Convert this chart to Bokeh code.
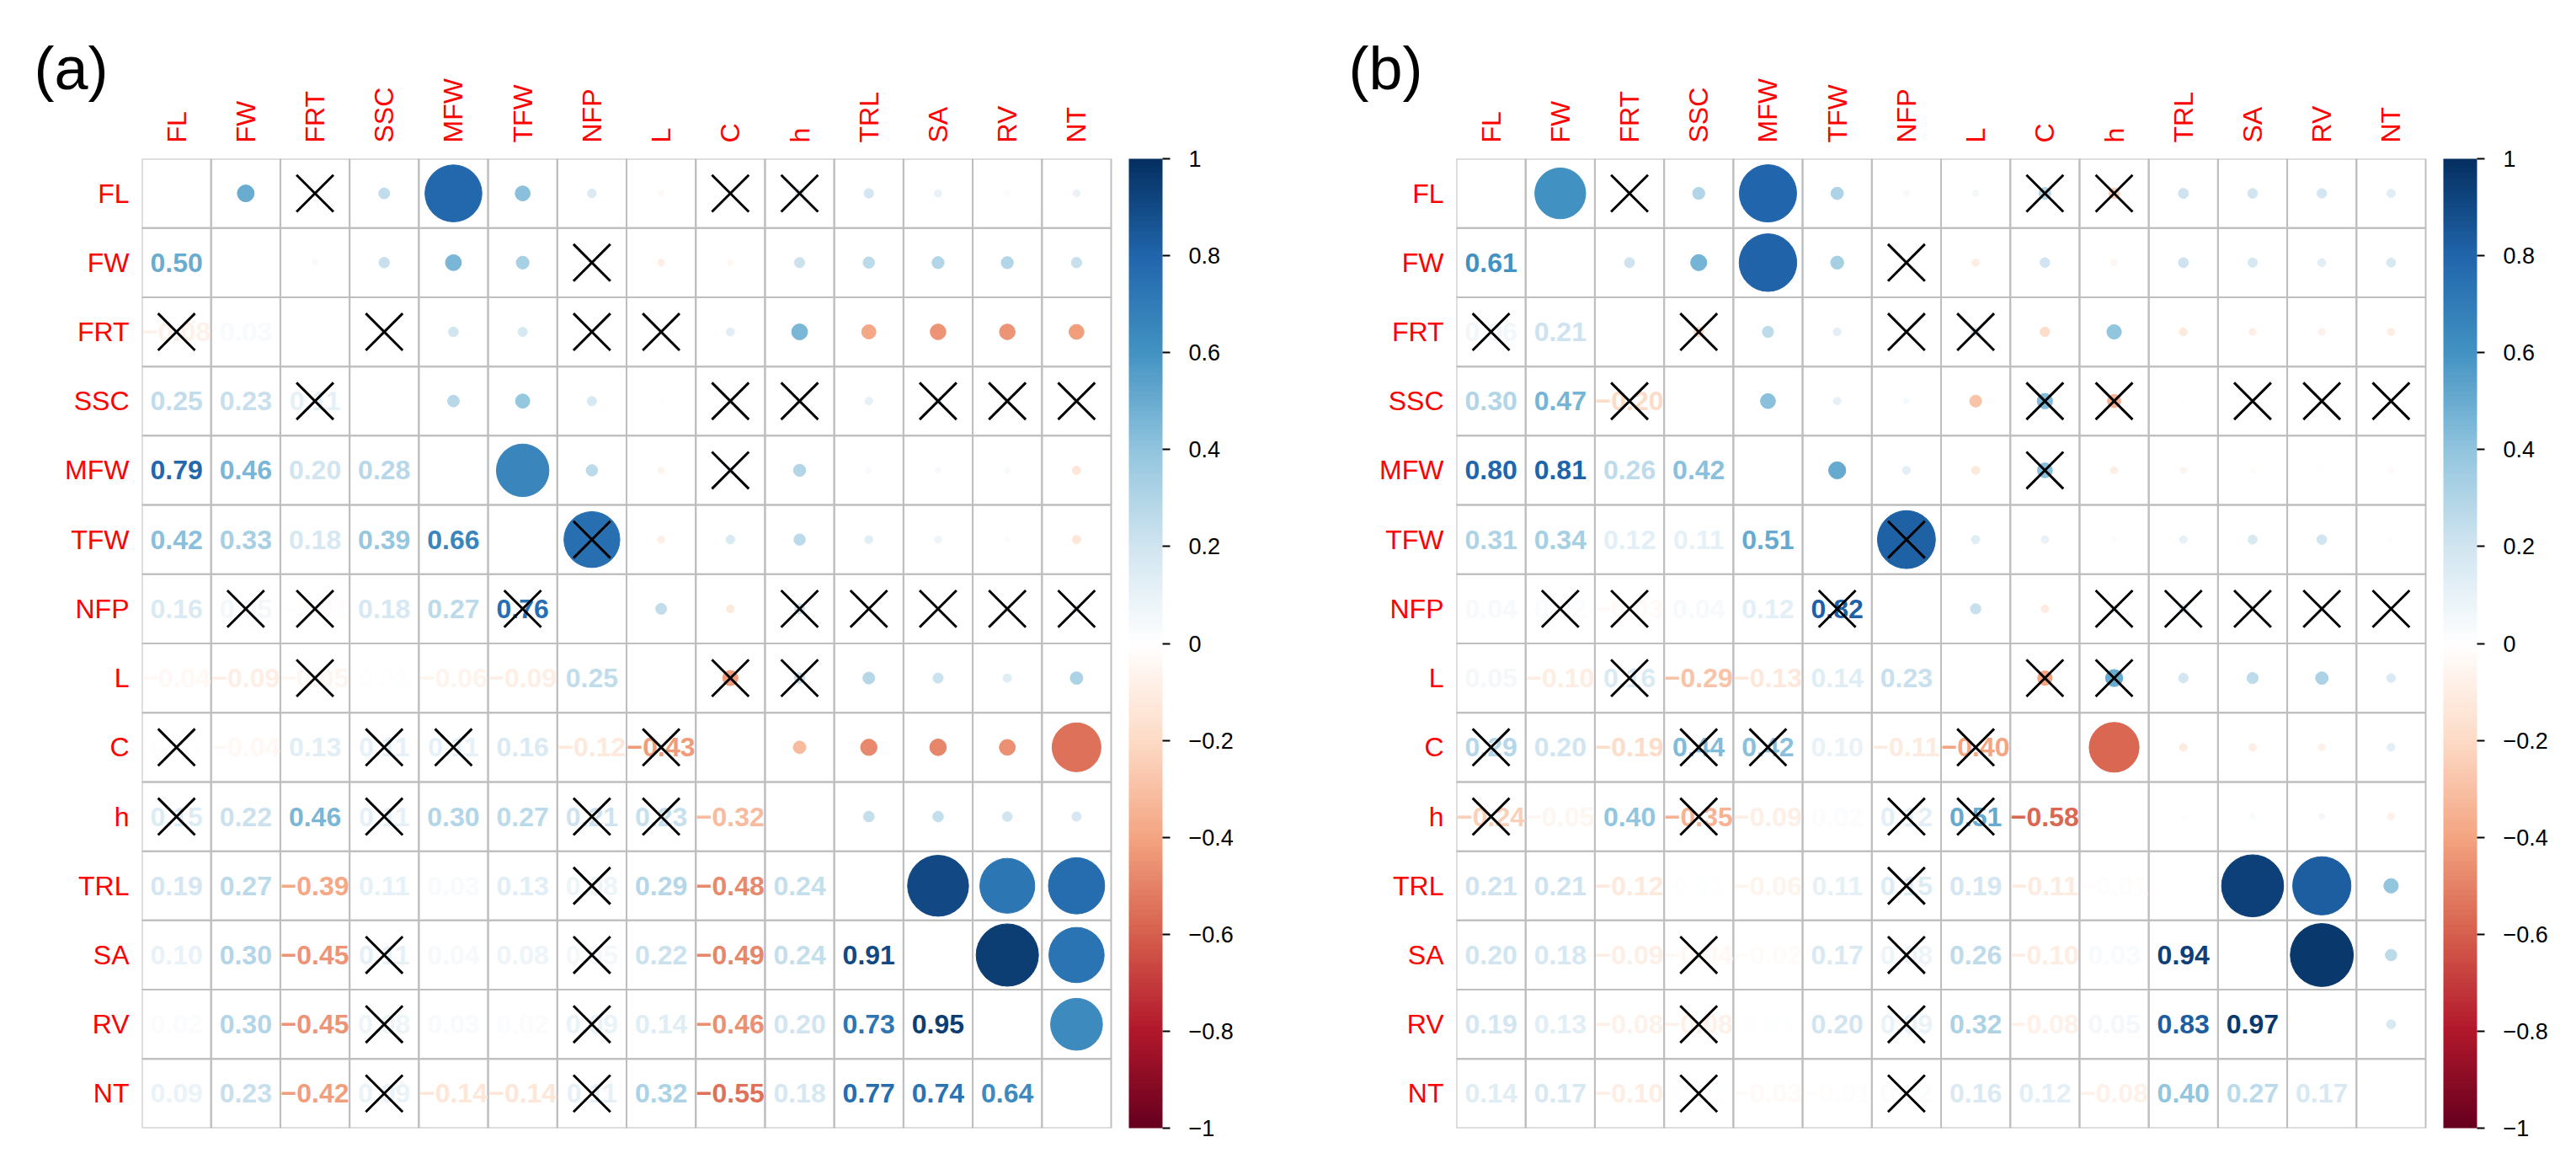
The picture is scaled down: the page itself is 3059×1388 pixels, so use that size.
import math
from bokeh.plotting import figure
from bokeh.layouts import row
from bokeh.models import (ColorBar, LinearColorMapper, FixedTicker, CustomJSTickFormatter,
                          Range1d, FactorRange)
from bokeh.core.properties import value
from bokeh.embed import file_html
from bokeh.resources import INLINE

# ---------------- data ----------------
LABELS = ["FL", "FW", "FRT", "SSC", "MFW", "TFW", "NFP", "L", "C", "h", "TRL", "SA", "RV", "NT"]

# lower-triangle correlations, panel (a); row i holds columns 0..i-1 (rows FW..NT)
CORR_A = [
    [0.50],
    [-0.08, 0.03],
    [0.25, 0.23, 0.11],
    [0.79, 0.46, 0.20, 0.28],
    [0.42, 0.33, 0.18, 0.39, 0.66],
    [0.16, 0.05, -0.01, 0.18, 0.27, 0.76],
    [-0.04, -0.09, -0.05, 0.01, -0.06, -0.09, 0.25],
    [0.01, -0.04, 0.13, 0.11, 0.11, 0.16, -0.12, -0.43],
    [0.15, 0.22, 0.46, 0.11, 0.30, 0.27, 0.21, 0.23, -0.32],
    [0.19, 0.27, -0.39, 0.11, 0.03, 0.13, 0.08, 0.29, -0.48, 0.24],
    [0.10, 0.30, -0.45, 0.11, 0.04, 0.08, 0.05, 0.22, -0.49, 0.24, 0.91],
    [0.02, 0.30, -0.45, 0.08, 0.03, 0.02, 0.09, 0.14, -0.46, 0.20, 0.73, 0.95],
    [0.09, 0.23, -0.42, 0.09, -0.14, -0.14, 0.11, 0.32, -0.55, 0.18, 0.77, 0.74, 0.64],
]

# lower-triangle correlations, panel (b)
CORR_B = [
    [0.61],
    [0.06, 0.21],
    [0.30, 0.47, -0.20],
    [0.80, 0.81, 0.26, 0.42],
    [0.31, 0.34, 0.12, 0.11, 0.51],
    [0.04, 0.02, -0.03, 0.04, 0.12, 0.82],
    [0.05, -0.10, 0.16, -0.29, -0.13, 0.14, 0.23],
    [0.29, 0.20, -0.19, 0.44, 0.42, 0.10, -0.11, -0.40],
    [-0.24, -0.05, 0.40, -0.35, -0.09, 0.02, 0.12, 0.51, -0.58],
    [0.21, 0.21, -0.12, 0.01, -0.06, 0.11, 0.15, 0.19, -0.11, -0.01],
    [0.20, 0.18, -0.09, -0.04, -0.02, 0.17, 0.08, 0.26, -0.10, 0.03, 0.94],
    [0.19, 0.13, -0.08, -0.08, 0.01, 0.20, 0.09, 0.32, -0.08, 0.05, 0.83, 0.97],
    [0.14, 0.17, -0.10, 0.01, -0.03, -0.01, 0.02, 0.16, 0.12, -0.08, 0.40, 0.27, 0.17],
]

# non-significant pairs (crossed out), panel (a) and (b)
NONSIG_A = [("FRT", "FL"), ("C", "FL"), ("h", "FL"), ("NFP", "FW"), ("SSC", "FRT"), ("NFP", "FRT"),
            ("L", "FRT"), ("C", "SSC"), ("h", "SSC"), ("SA", "SSC"), ("RV", "SSC"), ("NT", "SSC"),
            ("C", "MFW"), ("NFP", "TFW"), ("h", "NFP"), ("TRL", "NFP"), ("SA", "NFP"), ("RV", "NFP"),
            ("NT", "NFP"), ("C", "L"), ("h", "L")]
NONSIG_B = [("FRT", "FL"), ("C", "FL"), ("h", "FL"), ("NFP", "FW"), ("SSC", "FRT"), ("NFP", "FRT"),
            ("L", "FRT"), ("C", "SSC"), ("h", "SSC"), ("SA", "SSC"), ("RV", "SSC"), ("NT", "SSC"),
            ("C", "MFW"), ("NFP", "TFW"), ("h", "NFP"), ("TRL", "NFP"), ("SA", "NFP"), ("RV", "NFP"),
            ("NT", "NFP"), ("C", "L"), ("h", "L")]

CB_TICKS = [-1, -0.8, -0.6, -0.4, -0.2, 0, 0.2, 0.4, 0.6, 0.8, 1]
TITLES = ["(a)", "(b)"]

# ---------------- style ----------------
RDBU = ["#67001F", "#B2182B", "#D6604D", "#F4A582", "#FDDBC7", "#FFFFFF",
        "#D1E5F0", "#92C5DE", "#4393C3", "#2166AC", "#053061"]
FONT = "Liberation Sans"
FRAME = 1151          # grid size in px
GAP = 21              # gap between grid and colour bar in px
HEIGHT = 1372


def hex2rgb(h):
    return tuple(int(h[i:i + 2], 16) for i in (1, 3, 5))


def rdbu(v):
    t = (max(-1.0, min(1.0, v)) + 1) / 2 * (len(RDBU) - 1)
    k = min(int(t), len(RDBU) - 2)
    f = t - k
    a, b = hex2rgb(RDBU[k]), hex2rgb(RDBU[k + 1])
    c = [round(a[i] + (b[i] - a[i]) * f) for i in range(3)]
    return "#%02x%02x%02x" % tuple(c)


PALETTE = [rdbu(-1 + 2 * i / 199) for i in range(200)]


def diam(v):
    a = abs(v)
    return 36 + 40 * a if a >= 0.53 else 6 + 28 * a


def fmt(v):
    return ("%.2f" % v).replace("-", "\u2212")


def panel(corr, nonsig, title, width, left):
    n = len(LABELS)
    M = [[None] * n for _ in range(n)]
    for i, vals in enumerate(corr, start=1):
        for j, v in enumerate(vals):
            M[i][j] = v
            M[j][i] = v

    cell = FRAME / n
    x_end = n + GAP / cell
    right = width - left - FRAME - GAP
    p = figure(width=width, height=HEIGHT, x_range=Range1d(0, x_end),
               y_range=FactorRange(*reversed(LABELS)), x_axis_location="above",
               output_backend="svg", toolbar_location=None,
               min_border_left=left, min_border_right=right,
               min_border_top=188, min_border_bottom=HEIGHT - 188 - FRAME)
    p.outline_line_color = None
    p.xgrid.visible = False
    p.ygrid.visible = False

    # grid cells
    gx, gy = [], []
    for i in range(n):
        for j in range(n):
            gx.append(j + 0.5)
            gy.append(LABELS[i])
    p.rect(x=gx, y=gy, width=1, height=1, fill_color=None, line_color="#BEBEBE", line_width=2)

    # lower triangle numbers, upper triangle circles
    tx, ty, tt, tc = [], [], [], []
    cx, cy, cs, cc = [], [], [], []
    for i in range(n):
        for j in range(n):
            v = M[i][j]
            if v is None:
                continue
            if i > j:
                tx.append(j + 0.5); ty.append(LABELS[i]); tt.append(fmt(v)); tc.append(rdbu(v))
            else:
                cx.append(j + 0.5); cy.append(LABELS[i]); cs.append(diam(v)); cc.append(rdbu(v))
    p.scatter(x=cx, y=cy, size=cs, marker="circle", fill_color=cc, line_color=cc)
    p.text(x=tx, y=ty, text=tt, text_color=tc, text_align="center", text_baseline="middle",
           text_font=value(FONT), text_font_style="bold", text_font_size="32px")

    # crosses for non-significant pairs (both triangles)
    xx, xy = [], []
    for r, c in nonsig:
        i, j = LABELS.index(r), LABELS.index(c)
        xx += [j + 0.5, i + 0.5]
        xy += [LABELS[i], LABELS[j]]
    p.scatter(x=xx, y=xy, marker="x", size=62, line_color="black", line_width=3)

    # axes
    xa = p.xaxis[0]
    xa.ticker = FixedTicker(ticks=[k + 0.5 for k in range(n)])
    xa.formatter = CustomJSTickFormatter(args=dict(labels=LABELS), code="return labels[Math.floor(tick)]")
    xa.major_label_orientation = math.pi / 2
    xa.major_label_standoff = 19
    ya = p.yaxis[0]
    ya.major_label_standoff = 15
    for ax in (xa, ya):
        ax.axis_line_color = None
        ax.major_tick_line_color = None
        ax.minor_tick_line_color = None
        ax.major_tick_in = 0
        ax.major_tick_out = 0
        ax.major_label_text_color = "red"
        ax.major_label_text_font = FONT
        ax.major_label_text_font_size = "32px"

    # colour bar
    mapper = LinearColorMapper(palette=PALETTE, low=-1, high=1)
    cb = ColorBar(color_mapper=mapper, ticker=FixedTicker(ticks=CB_TICKS),
                  formatter=CustomJSTickFormatter(code="return (Math.abs(tick) < 1e-9 ? '0' : String(Math.round(tick*10)/10)).replace('-', '\u2212')"),
                  width=40, height=FRAME, padding=0, margin=0, location="top_left",
                  major_tick_in=0, major_tick_out=9, major_tick_line_color="black",
                  major_tick_line_width=2, minor_tick_line_color=None,
                  major_label_text_font=FONT, major_label_text_font_size="27px",
                  major_label_text_color="black", label_standoff=22,
                  bar_line_color=None, border_line_color=None, background_fill_color=None)
    p.add_layout(cb, "right")

    # panel title
    p.title.text = title
    p.title.text_font = FONT
    p.title.text_font_size = "72px"
    p.title.text_font_style = "normal"
    p.title.text_color = "black"
    p.title.align = "left"
    p.title.offset = -128
    p.title.standoff = -60
    return p


pa = panel(CORR_A, NONSIG_A, TITLES[0], 1532, 168)
pb = panel(CORR_B, NONSIG_B, TITLES[1], 1511, 197)
layout = row(pa, pb, spacing=0)

open("out.html", "w").write(file_html(layout, INLINE))
